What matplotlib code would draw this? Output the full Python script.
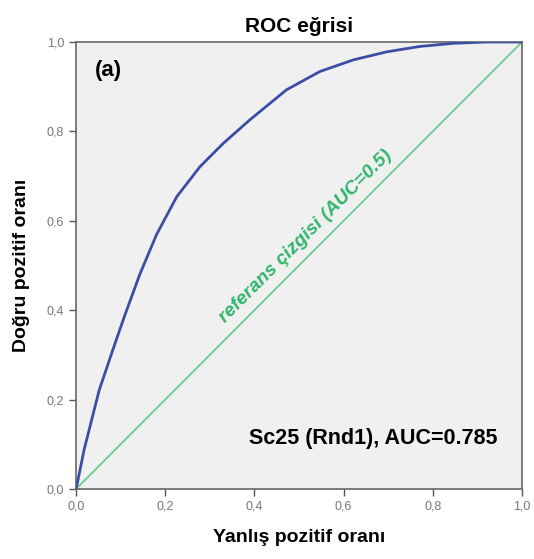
import matplotlib
matplotlib.use('Agg')
import matplotlib.pyplot as plt

plt.rcParams['font.family'] = ['Liberation Sans', 'DejaVu Sans']

# ROC curve values
fpr = [0.0, 0.003, 0.018, 0.037, 0.052, 0.070, 0.089, 0.110, 0.143, 0.181,
       0.226, 0.278, 0.330, 0.390, 0.472, 0.547, 0.622, 0.697, 0.771, 0.846,
       0.92, 1.0]
tpr = [0.0, 0.013, 0.087, 0.162, 0.221, 0.274, 0.330, 0.390, 0.480, 0.570,
       0.654, 0.721, 0.773, 0.826, 0.893, 0.934, 0.960, 0.978, 0.990, 0.997,
       1.0, 1.0]
ref_x = [0.0, 1.0]
ref_y = [0.0, 1.0]
ticks = [0.0, 0.2, 0.4, 0.6, 0.8, 1.0]
tick_labels = ['0,0', '0,2', '0,4', '0,6', '0,8', '1,0']

fig = plt.figure(figsize=(5.34, 5.59), dpi=100)
ax = fig.add_axes([0.1423, 0.1252, 0.8352, 0.7997])
ax.set_facecolor('#f0f0f0')

ax.plot(ref_x, ref_y, color='#6cc98f', lw=1.3, zorder=2)
ax.plot(fpr, tpr, color='#3b4ea3', lw=2.0, zorder=3, solid_joinstyle='round')

ax.set_xlim(0, 1)
ax.set_ylim(0, 1)
ax.set_xticks(ticks)
ax.set_xticklabels(tick_labels)
ax.set_yticks(ticks)
ax.set_yticklabels(tick_labels)
ax.tick_params(direction='out', length=5, width=1, colors='#555555',
               labelsize=9, labelcolor='#777777')
for s in ax.spines.values():
    s.set_color('#666666')
    s.set_linewidth(1.2)

ax.set_title('ROC eğrisi', fontsize=15, fontweight='bold', pad=7)
ax.set_xlabel('Yanlış pozitif oranı', fontsize=14, fontweight='bold', labelpad=12)
ax.set_ylabel('Doğru pozitif oranı', fontsize=14, fontweight='bold', labelpad=12)

ax.text(0.043, 0.937, '(a)', fontsize=16, fontweight='bold', ha='left', va='center')
ax.text(0.944, 0.114, 'Sc25 (Rnd1), AUC=0.785', fontsize=15.5, fontweight='bold',
        ha='right', va='center')
ax.text(0.515, 0.566, 'referans çizgisi (AUC=0.5)', fontsize=13.8, fontweight='bold',
        style='italic', color='#2fb56b', rotation=45, rotation_mode='anchor',
        ha='center', va='center')

fig.savefig('out.png', dpi=100)
